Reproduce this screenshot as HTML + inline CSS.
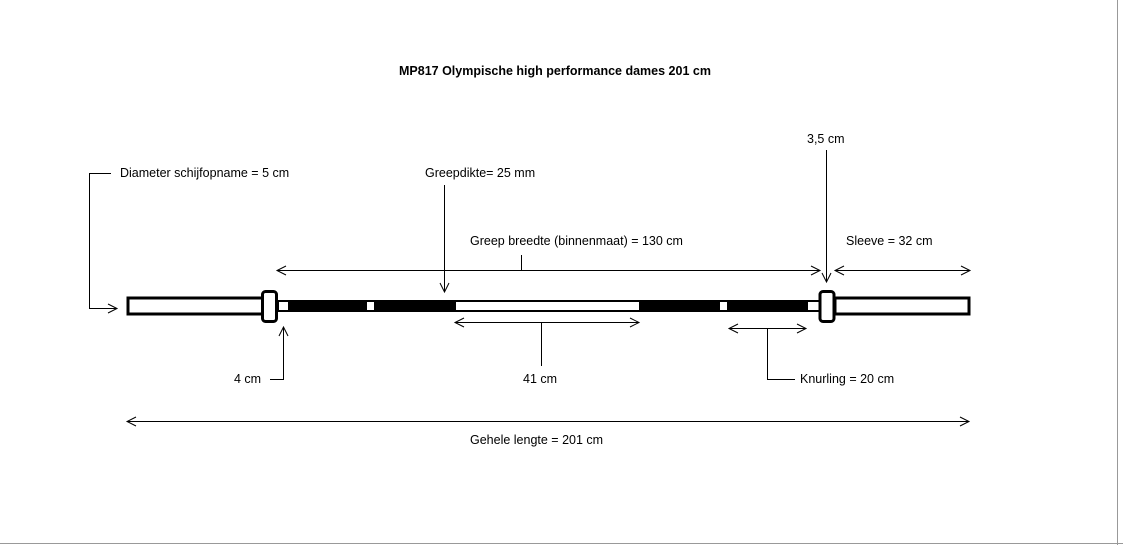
<!DOCTYPE html>
<html><head><style>
body{margin:0;background:#fff;width:1123px;height:545px;overflow:hidden;position:relative;font-family:"Liberation Sans",sans-serif}
.t{position:absolute;font-size:12.5px;color:#000;white-space:nowrap}
</style></head><body>
<svg width="1123" height="545" style="position:absolute;left:0;top:0" fill="none" stroke="#000" stroke-width="1">
<line x1="1117.5" y1="0" x2="1117.5" y2="545" stroke="#999"/>
<line x1="0" y1="543.5" x2="1123" y2="543.5" stroke="#999"/>
<!-- bar -->
<rect x="128" y="298" width="135" height="16" stroke-width="3" fill="#fff"/>
<rect x="835" y="298" width="134" height="16" stroke-width="3" fill="#fff"/>
<rect x="277" y="300" width="543" height="12" fill="#000" stroke="none"/>
<rect x="279" y="302" width="9" height="8" fill="#fff" stroke="none"/>
<rect x="367" y="302" width="7" height="8" fill="#fff" stroke="none"/>
<rect x="456" y="302" width="183" height="8" fill="#fff" stroke="none"/>
<rect x="720" y="302" width="7" height="8" fill="#fff" stroke="none"/>
<rect x="808" y="302" width="11" height="8" fill="#fff" stroke="none"/>
<rect x="262.5" y="291.5" width="14" height="30" rx="3" stroke-width="3" fill="#fff"/>
<rect x="820" y="291.5" width="14" height="30" rx="3" stroke-width="3" fill="#fff"/>
<!-- arrows -->
<g>
<line x1="277" y1="270.5" x2="820" y2="270.5"/><path d="M286 266 L277 270.5 L286 275 M811 266 L820 270.5 L811 275"/>
<line x1="521.5" y1="255" x2="521.5" y2="270"/>
<line x1="835" y1="270.5" x2="970" y2="270.5"/><path d="M844 266 L835 270.5 L844 275 M961 266 L970 270.5 L961 275"/>
<line x1="444.5" y1="185" x2="444.5" y2="292"/><path d="M440 283 L444.5 292 L449 283"/>
<line x1="826.5" y1="150" x2="826.5" y2="282"/><path d="M822 273 L826.5 282 L831 273"/>
<line x1="455" y1="322.5" x2="639" y2="322.5"/><path d="M464 318 L455 322.5 L464 327 M630 318 L639 322.5 L630 327"/>
<line x1="541.5" y1="322" x2="541.5" y2="366"/>
<line x1="729" y1="328.5" x2="806" y2="328.5"/><path d="M738 324 L729 328.5 L738 333 M797 324 L806 328.5 L797 333"/>
<polyline points="767.5,328 767.5,379.5 795,379.5"/>
<polyline points="283.5,327 283.5,379.5 270,379.5"/><path d="M279 336 L283.5 327 L288 336"/>
<polyline points="111,173.5 89.5,173.5 89.5,308.5 117,308.5"/><path d="M108 304 L117 308.5 L108 313"/>
<line x1="127" y1="421.5" x2="969" y2="421.5"/><path d="M136 417 L127 421.5 L136 426 M960 417 L969 421.5 L960 426"/>
</g>
</svg>
<div class="t" style="left:399px;top:64px;font-weight:bold">MP817 Olympische high performance dames 201 cm</div>
<div class="t" style="left:807px;top:132px">3,5 cm</div>
<div class="t" style="left:120px;top:166px">Diameter schijfopname = 5 cm</div>
<div class="t" style="left:425px;top:166px">Greepdikte= 25 mm</div>
<div class="t" style="left:470px;top:234px">Greep breedte (binnenmaat) = 130 cm</div>
<div class="t" style="left:846px;top:234px">Sleeve = 32 cm</div>
<div class="t" style="left:234px;top:372px">4 cm</div>
<div class="t" style="left:523px;top:372px">41 cm</div>
<div class="t" style="left:800px;top:372px">Knurling = 20 cm</div>
<div class="t" style="left:470px;top:433px">Gehele lengte = 201 cm</div>
</body></html>
